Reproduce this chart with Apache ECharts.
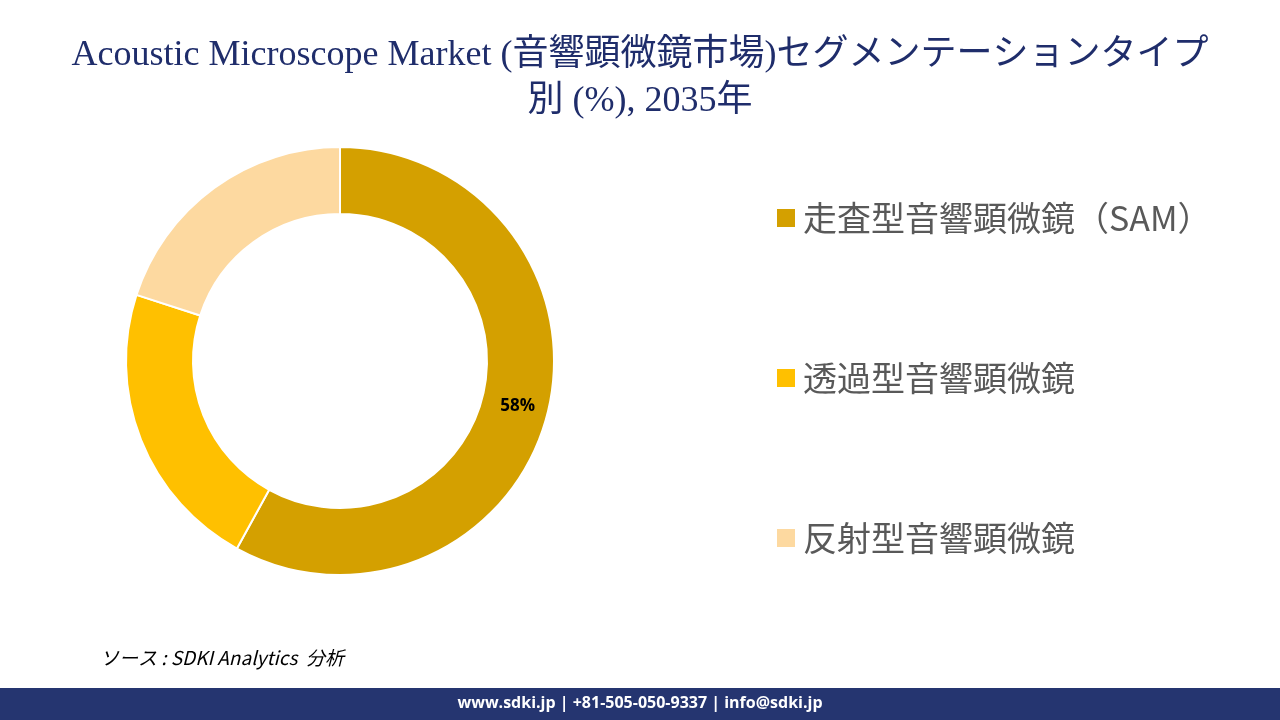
<!DOCTYPE html>
<html><head><meta charset="utf-8">
<script src="https://cdn.jsdelivr.net/npm/echarts@6/dist/echarts.min.js"></script>
<style>html,body{margin:0;padding:0;background:#fff}#c{width:1280px;height:720px}</style>
</head><body><div id="c"></div>
<script>
const categories = ['走査型音響顕微鏡（SAM）', '透過型音響顕微鏡', '反射型音響顕微鏡'];
const values = [58, 22, 20];
const labels = ['58%', '', ''];
const colors = ['#D4A000', '#FFC000', '#FDD9A0'];
const chart = echarts.init(document.getElementById('c'));
chart.setOption({
  animation: false,
  title: {
    text: 'Acoustic Microscope Market (音響顕微鏡市場)セグメンテーションタイプ\n別 (%), 2035年',
    left: 'center', top: 28,
    textStyle: {fontFamily: 'Liberation Serif, Noto Sans CJK JP, serif', fontSize: 36, fontWeight: 'normal', color: '#1F2D6B', lineHeight: 46}
  },
  legend: {
    orient: 'vertical', left: 770, top: 196, itemGap: 126, itemWidth: 20, itemHeight: 20,
    icon: 'rect',
    textStyle: {fontSize: 34, color: '#595959', fontFamily: 'Noto Sans CJK JP, sans-serif', padding: [0,0,0,2]},
    data: categories
  },
  graphic: [
    {type: 'rect', shape: {x: 0, y: 688, width: 1280, height: 32}, style: {fill: '#253570'}},
    {type: 'text', left: 'center', top: 695, style: {text: 'www.sdki.jp | +81-505-050-9337 | info@sdki.jp', fill: '#fff', font: 'bold 16px "Open Sans", sans-serif'}},
    {type: 'text', left: 100, top: 648, style: {text: 'ソース : SDKI Analytics  分析', fill: '#000', font: 'italic 19px "Noto Sans CJK JP", sans-serif'}}
  ],
  series: [{
    type: 'pie', center: [340, 361], radius: [147, 214], startAngle: 90, clockwise: true,
    itemStyle: {borderColor: '#fff', borderWidth: 2},
    label: {position: 'inside', formatter: p => labels[p.dataIndex], fontSize: 17, fontWeight: 'bold', color: '#000', fontFamily: 'Open Sans, sans-serif'},
    labelLine: {show: false},
    data: categories.map((n, i) => ({name: n, value: values[i], itemStyle: {color: colors[i]}}))
  }]
});
</script></body></html>
